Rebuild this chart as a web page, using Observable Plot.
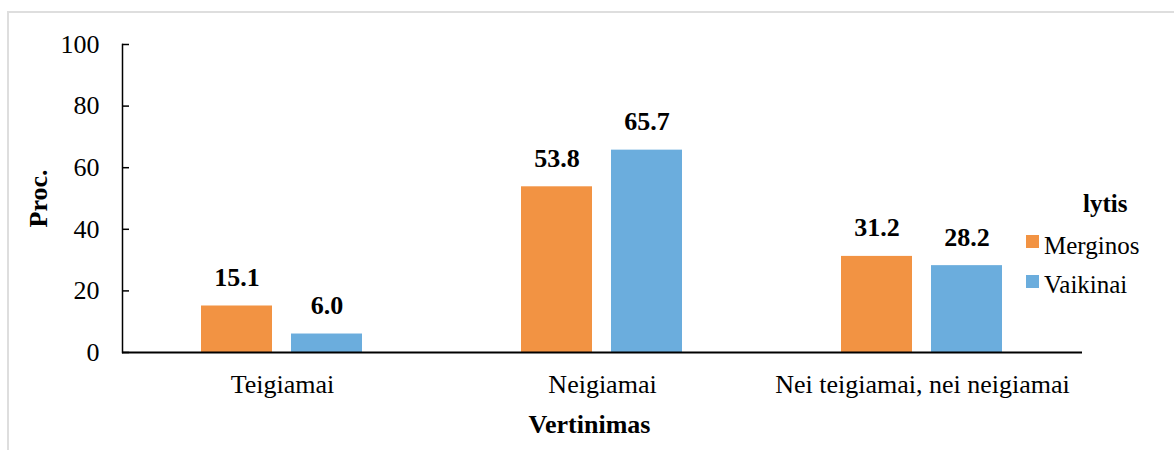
<!DOCTYPE html>
<html>
<head>
<meta charset="utf-8">
<script src="https://cdn.jsdelivr.net/npm/d3@7"></script>
<script src="https://cdn.jsdelivr.net/npm/@observablehq/plot@0.6"></script>
<style>
html, body { margin: 0; padding: 0; background: #fff; }
#wrap { position: relative; width: 1174px; height: 450px; overflow: hidden; font-family: "Liberation Serif", "Times New Roman", serif; }
#border { position: absolute; left: 7px; top: 11px; right: -10px; bottom: -10px; border-left: 2px solid #dedede; border-top: 2px solid #dedede; }
#chart { position: absolute; left: 0; top: 0; }
#legend { position: absolute; left: 0; top: 0; width: 1174px; height: 450px; pointer-events: none; }
.lg-title { position: absolute; left: 1083px; top: 191px; font-size: 25px; line-height: 25px; font-weight: bold; color: #000; }
.lg-swatch { position: absolute; width: 13px; height: 13px; }
.lg-label { position: absolute; font-size: 25px; line-height: 25px; color: #000; white-space: nowrap; }
</style>
</head>
<body>
<div id="wrap">
  <div id="border"></div>
  <div id="chart"></div>
  <div id="legend"></div>
</div>
<script>
const categories = ["Teigiamai", "Neigiamai", "Nei teigiamai, nei neigiamai"];
const series = ["Merginos", "Vaikinai"];
const merginos = [15.1, 53.8, 31.2];
const vaikinai = [6.0, 65.7, 28.2];
const yTicks = [0, 20, 40, 60, 80, 100];
const legendTitle = "lytis";
const xTitle = "Vertinimas";
const yTitle = "Proc.";

const palette = ["#F29343", "#6BADDD"];

const data = categories.flatMap((c, i) => [
  {category: c, series: series[0], value: merginos[i]},
  {category: c, series: series[1], value: vaikinai[i]}
]);

const plot = Plot.plot({
  width: 1174,
  height: 450,
  marginLeft: 121,
  marginRight: 91,
  marginTop: 44,
  marginBottom: 98,
  style: {fontFamily: "'Liberation Serif', 'Times New Roman', serif", fontSize: "26px", color: "#000", background: "transparent", overflow: "visible"},
  fx: {domain: categories, padding: 0},
  x: {domain: series, paddingInner: 0.2088, paddingOuter: 0.866, axis: null},
  y: {domain: [0, 100]},
  color: {domain: series, range: palette},
  marks: [
    Plot.barY(data, {fx: "category", x: "series", y: "value", fill: "series"}),
    Plot.text(data, {fx: "category", x: "series", y: "value", text: d => d.value.toFixed(1), dy: -20, lineAnchor: "bottom", fontWeight: "bold", fontSize: 26, fill: "#000"}),
    Plot.ruleY([0], {stroke: "#000", strokeWidth: 2}),
    Plot.frame({anchor: "left", facetAnchor: "left", stroke: "#000", strokeWidth: 1.5}),
    Plot.axisY({ticks: yTicks, tickSize: 7, dx: 7, text: null, label: null, strokeWidth: 1.5}),
    Plot.axisY({ticks: yTicks, tickSize: 0, tickPadding: 23, label: null, fontSize: 26}),
    Plot.axisFx({anchor: "bottom", tickSize: 0, tickPadding: 22, label: null, fontSize: 26}),
    // axis titles
    Plot.text([{cat: categories[0], label: yTitle}], {fx: "cat", text: "label", frameAnchor: "left", rotate: -90, dx: -84, textAnchor: "middle", lineAnchor: "middle", fontWeight: "bold", fontSize: 26, fill: "#000"}),
    Plot.text([{cat: categories[1], label: xTitle}], {fx: "cat", text: "label", frameAnchor: "bottom", dx: -13, dy: 80, textAnchor: "middle", lineAnchor: "bottom", fontWeight: "bold", fontSize: 26, fill: "#000"})
  ]
});
document.getElementById("chart").appendChild(plot);

// Legend (HTML, built from the series arrays)
const legend = document.getElementById("legend");
const t = document.createElement("div");
t.className = "lg-title";
t.textContent = legendTitle;
legend.appendChild(t);
series.forEach((s, i) => {
  const sw = document.createElement("div");
  sw.className = "lg-swatch";
  sw.style.left = "1026px";
  sw.style.top = (235 + i * 40) + "px";
  sw.style.background = palette[i];
  legend.appendChild(sw);
  const lb = document.createElement("div");
  lb.className = "lg-label";
  lb.style.left = "1044px";
  lb.style.top = (233 + i * 39) + "px";
  lb.textContent = s;
  legend.appendChild(lb);
});
</script>
</body>
</html>
